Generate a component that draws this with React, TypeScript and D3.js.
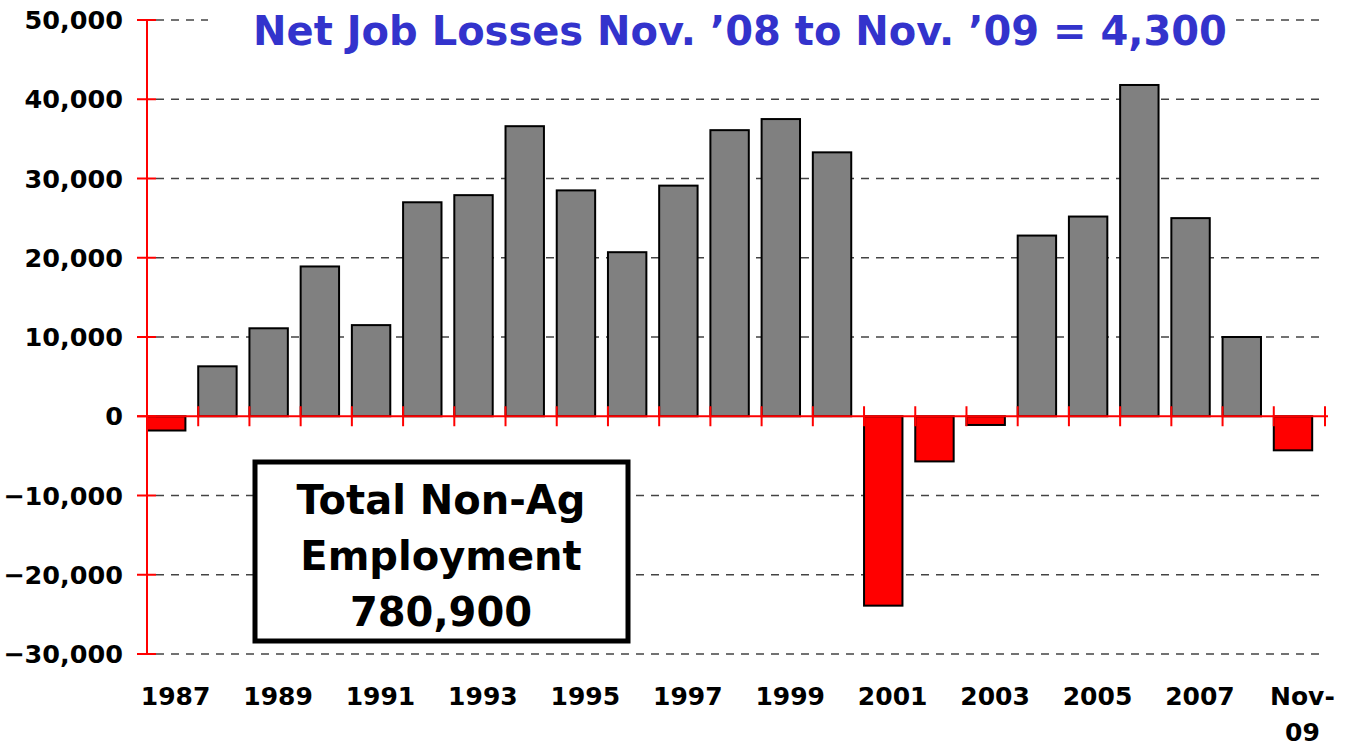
import React from "react";
import * as d3 from "d3";

const categories = ["1987","1988","1989","1990","1991","1992","1993","1994","1995","1996","1997","1998","1999","2000","2001","2002","2003","2004","2005","2006","2007","2008","Nov-09"];
const values = [-1800,6300,11100,18900,11500,27000,27900,36600,28500,20700,29100,36100,37500,33300,-23900,-5700,-1100,22800,25200,41800,25000,10000,-4300];
const yTicks = [-30000,-20000,-10000,0,10000,20000,30000,40000,50000];
const xLabelIdx = [0,2,4,6,8,10,12,14,16,18,20,22];
const title = "Net Job Losses Nov. \u201908 to Nov. \u201909 = 4,300";
const boxLines = ["Total Non-Ag", "Employment", "780,900"];

const W = 1346, H = 747;
const x0 = 147, x1 = 1325;
const FONT = "Verdana, 'DejaVu Sans', sans-serif";

export default function App() {
  const x = d3.scaleBand<string>().domain(categories).range([x0, x1]).paddingInner(0).paddingOuter(0);
  const y = d3.scaleLinear().domain([-30000, 50000]).range([654, 20]);
  const bw = x.bandwidth();
  const fmt = d3.format(",");
  const y0 = y(0);
  return (
    <svg width={W} height={H} style={{ position: "absolute", left: 0, top: 0, background: "#fff" }}>
      <rect x={0} y={0} width={W} height={H} fill="#fff" />
      {yTicks.filter(t => t !== 0).map(t => (
        <line key={t} x1={156} x2={1324} y1={y(t)} y2={y(t)} stroke="#444" strokeWidth={1.3} strokeDasharray="8,7" />
      ))}
      <rect x={208} y={4} width={1024} height={40} fill="#fff" />
      <text x={740} y={45} textAnchor="middle" fontFamily={FONT} fontWeight="bold" fontSize={40} fill="#3333CC">{title}</text>
      {values.map((v, i) => {
        const bx = x(categories[i])!;
        const top = Math.min(y(v), y0);
        const h = Math.abs(y(v) - y0);
        return (
          <rect key={i} x={bx} y={top} width={bw * 0.75} height={h}
            fill={v < 0 ? "#FF0000" : "#808080"} stroke="#000" strokeWidth={2} />
        );
      })}
      <line x1={137} x2={1328} y1={y0} y2={y0} stroke="#FF0000" strokeWidth={2} />
      {categories.slice(1).map(c => (
        <line key={c} x1={x(c)!} x2={x(c)!} y1={y0 - 10} y2={y0 + 10} stroke="#FF0000" strokeWidth={2} />
      ))}
      <line x1={x1} x2={x1} y1={y0 - 10} y2={y0 + 10} stroke="#FF0000" strokeWidth={2} />
      <line x1={x0} x2={x0} y1={y(50000)} y2={y(-30000)} stroke="#FF0000" strokeWidth={2} />
      {yTicks.map(t => (
        <g key={t}>
          <line x1={137} x2={156} y1={y(t)} y2={y(t)} stroke="#FF0000" strokeWidth={2} />
          <text x={123} y={y(t) + 9} textAnchor="end" fontFamily={FONT} fontWeight="bold" fontSize={25.5} fill="#000">{fmt(t)}</text>
        </g>
      ))}
      {xLabelIdx.map(i => {
        const c = categories[i];
        const cx = x(c)! + bw / 2 + 3;
        if (c.startsWith("Nov")) {
          return (
            <text key={c} x={cx} y={705} textAnchor="middle" fontFamily={FONT} fontWeight="bold" fontSize={25} fill="#000">
              <tspan x={cx} y={705}>Nov-</tspan>
              <tspan x={cx} dy={36}>09</tspan>
            </text>
          );
        }
        return <text key={c} x={cx} y={705} textAnchor="middle" fontFamily={FONT} fontWeight="bold" fontSize={25} fill="#000">{c}</text>;
      })}
      <rect x={255} y={462} width={373} height={179} fill="#fff" stroke="#000" strokeWidth={5} />
      {boxLines.map((l, i) => (
        <text key={l} x={441} y={514 + i * 56} textAnchor="middle" fontFamily={FONT} fontWeight="bold" fontSize={40} fill="#000">{l}</text>
      ))}
    </svg>
  );
}
